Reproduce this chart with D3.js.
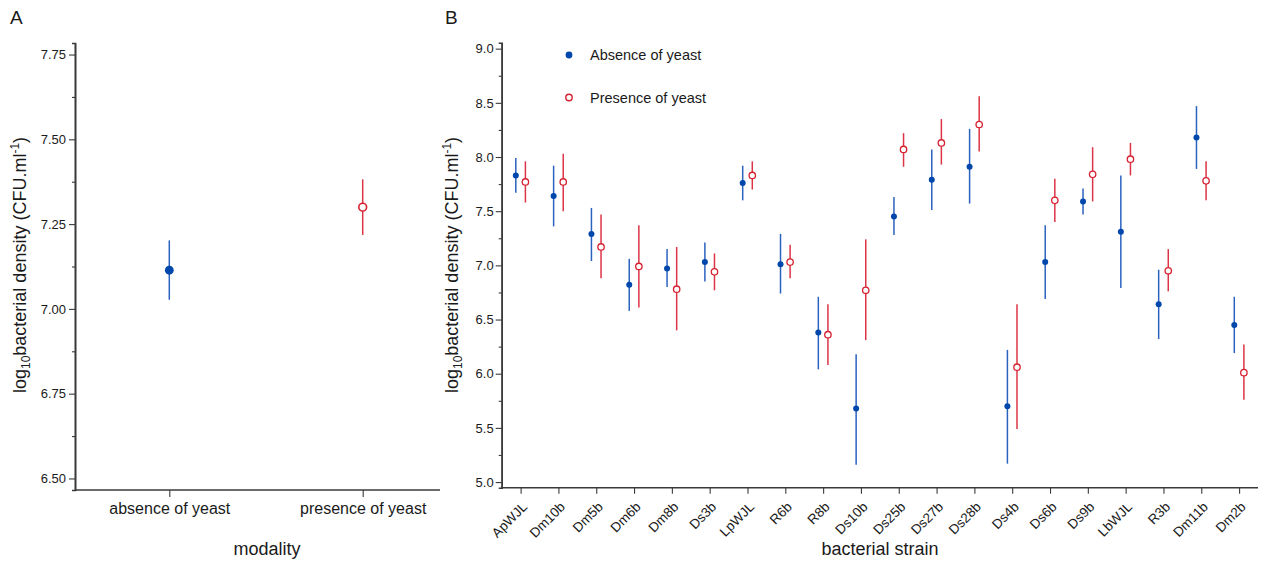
<!DOCTYPE html>
<html lang="en">
<head>
<meta charset="UTF-8">
<title>Bacterial density</title>
<style>
    body { margin: 0; background: #fff; }
    svg text { font-family: "Liberation Sans", Arial, sans-serif; fill: #1a1a1a; }
</style>
</head>
<body>
<div id="graph"></div>
<script src="https://cdnjs.cloudflare.com/ajax/libs/d3/7.8.5/d3.min.js"></script>
<script>
    // panel A data
    const modalities = ["absence of yeast", "presence of yeast"];
    const modMean = [7.114, 7.300];
    const modLow = [7.027, 7.218];
    const modHigh = [7.202, 7.382];
    const ticksA = [6.50, 6.75, 7.00, 7.25, 7.50, 7.75];

    // panel B data
    const strains = ["ApWJL", "Dm10b", "Dm5b", "Dm6b", "Dm8b", "Ds3b", "LpWJL", "R6b", "R8b", "Ds10b",
                     "Ds25b", "Ds27b", "Ds28b", "Ds4b", "Ds6b", "Ds9b", "LbWJL", "R3b", "Dm11b", "Dm2b"];
    const absMean = [7.83, 7.64, 7.29, 6.82, 6.97, 7.03, 7.76, 7.01, 6.38, 5.68,
                     7.45, 7.79, 7.91, 5.70, 7.03, 7.59, 7.31, 6.64, 8.18, 6.45];
    const absLow  = [7.67, 7.36, 7.04, 6.58, 6.80, 6.85, 7.60, 6.74, 6.04, 5.16,
                     7.28, 7.51, 7.57, 5.17, 6.69, 7.47, 6.79, 6.32, 7.89, 6.19];
    const absHigh = [7.99, 7.92, 7.53, 7.06, 7.15, 7.21, 7.92, 7.29, 6.71, 6.18,
                     7.63, 8.07, 8.26, 6.22, 7.37, 7.71, 7.83, 6.96, 8.47, 6.71];
    const presMean = [7.77, 7.77, 7.17, 6.99, 6.78, 6.94, 7.83, 7.03, 6.36, 6.77,
                      8.07, 8.13, 8.30, 6.06, 7.60, 7.84, 7.98, 6.95, 7.78, 6.01];
    const presLow  = [7.58, 7.50, 6.88, 6.61, 6.40, 6.77, 7.70, 6.88, 6.08, 6.31,
                      7.91, 7.93, 8.05, 5.49, 7.40, 7.59, 7.83, 6.76, 7.60, 5.76];
    const presHigh = [7.96, 8.03, 7.47, 7.37, 7.17, 7.11, 7.96, 7.19, 6.64, 7.24,
                      8.22, 8.35, 8.56, 6.64, 7.80, 8.09, 8.13, 7.15, 7.96, 6.27];
    const ticksB = [5.0, 5.5, 6.0, 6.5, 7.0, 7.5, 8.0, 8.5, 9.0];

    const legendLabels = ["Absence of yeast", "Presence of yeast"];

    const blue = "#0047ab", blueBar = "#2a62c0";
    const red = "#d6202f", redBar = "#dc3446";
    const axisColor = "#3a3a3a";

    const svg = d3.select("#graph").append("svg")
        .attr("width", 1265).attr("height", 561);

    // styling of a d3 axis group
    function styleAxis(g, fontSize) {
        g.select(".domain").attr("stroke", axisColor).attr("stroke-width", 1.6);
        g.selectAll(".tick line").attr("stroke", axisColor).attr("stroke-width", 1.1);
        g.selectAll(".tick text").attr("font-size", fontSize).attr("fill", "#1a1a1a")
            .attr("font-family", "Liberation Sans, Arial, sans-serif");
    }

    // y title with subscript 10 and superscript -1
    function yTitle(x, y) {
        const t = svg.append("text")
            .attr("transform", `translate(${x},${y}) rotate(-90)`)
            .attr("text-anchor", "middle")
            .attr("font-size", 18);
        t.append("tspan").text("log");
        t.append("tspan").attr("font-size", 12).attr("dy", 4).text("10");
        t.append("tspan").attr("dy", -4).text("bacterial density (CFU.ml");
        t.append("tspan").attr("font-size", 12).attr("dy", -7).text("-1");
        t.append("tspan").attr("dy", 7).text(")");
    }

    // ---------- panel A ----------
    const yA = d3.scaleLinear().domain([6.466, 7.784]).range([490, 43]);
    const xA = d3.scalePoint().domain(modalities).range([169.3, 362.7]);

    const minorA = d3.range(0, 6).map(i => 6.625 + i * 0.25).filter(v => v < 7.784);
    svg.append("g").attr("transform", "translate(75,0)")
        .call(d3.axisLeft(yA).tickValues(minorA).tickSize(3).tickFormat(""))
        .call(g => styleAxis(g, 13));
    svg.append("g").attr("transform", "translate(75,0)")
        .call(d3.axisLeft(yA).tickValues(ticksA).tickSize(6).tickSizeOuter(0)
            .tickPadding(3).tickFormat(d3.format(".2f")))
        .call(g => styleAxis(g, 13));

    svg.append("line").attr("x1", 75).attr("x2", 440).attr("y1", 490).attr("y2", 490)
        .attr("stroke", axisColor).attr("stroke-width", 1.6);
    const axA = svg.append("g").attr("transform", "translate(0,490)")
        .call(d3.axisBottom(xA).tickSize(7).tickSizeOuter(0).tickPadding(6))
        .call(g => styleAxis(g, 16));
    axA.select(".domain").remove();

    svg.selectAll(".errA").data(modalities).join("line")
        .attr("x1", d => xA(d)).attr("x2", d => xA(d))
        .attr("y1", (d, i) => yA(modLow[i])).attr("y2", (d, i) => yA(modHigh[i]))
        .attr("stroke", (d, i) => i === 0 ? blueBar : redBar).attr("stroke-width", 1.5);
    svg.append("circle").attr("cx", xA(modalities[0])).attr("cy", yA(modMean[0]))
        .attr("r", 4.4).attr("fill", blue);
    svg.append("circle").attr("cx", xA(modalities[1])).attr("cy", yA(modMean[1]))
        .attr("r", 3.9).attr("fill", "#fff").attr("stroke", red).attr("stroke-width", 1.6);

    yTitle(26, 265);
    svg.append("text").attr("x", 267).attr("y", 555).attr("text-anchor", "middle")
        .attr("font-size", 18).text("modality");
    svg.append("text").attr("x", 10).attr("y", 24).attr("font-size", 19).text("A");

    // ---------- panel B ----------
    const x0 = 501.7, x1 = 1258, yTop = 42.7, yBot = 487.7;
    const yB = d3.scaleLinear().domain([4.948, 9.055]).range([yBot, yTop]);
    const xB = d3.scalePoint().domain(strains).range([x0, x1]).padding(0.5);
    const off = 4.8;

    const minorB = d3.range(0, 8).map(i => 5.25 + i * 0.5);
    svg.append("g").attr("transform", `translate(${x0},0)`)
        .call(d3.axisLeft(yB).tickValues(minorB).tickSize(3).tickFormat(""))
        .call(g => styleAxis(g, 13));
    svg.append("g").attr("transform", `translate(${x0},0)`)
        .call(d3.axisLeft(yB).tickValues(ticksB).tickSize(6).tickSizeOuter(0)
            .tickPadding(2).tickFormat(d3.format(".1f")))
        .call(g => styleAxis(g, 13));

    svg.append("line").attr("x1", x0).attr("x2", x1).attr("y1", yBot).attr("y2", yBot)
        .attr("stroke", axisColor).attr("stroke-width", 1.6);
    const axB = svg.append("g").attr("transform", `translate(0,${yBot})`)
        .call(d3.axisBottom(xB).tickSize(6).tickSizeOuter(0))
        .call(g => styleAxis(g, 13.5));
    axB.select(".domain").remove();
    axB.selectAll(".tick text")
        .attr("text-anchor", "end")
        .attr("dy", null)
        .attr("y", null)
        .attr("transform", "translate(7,20) rotate(-45)");

    // error bars, absence (left) and presence (right)
    const gB = svg.append("g");
    gB.selectAll(".errAbs").data(strains).join("line")
        .attr("x1", d => xB(d) - off).attr("x2", d => xB(d) - off)
        .attr("y1", (d, i) => yB(absLow[i])).attr("y2", (d, i) => yB(absHigh[i]))
        .attr("stroke", blueBar).attr("stroke-width", 1.5);
    gB.selectAll(".errPres").data(strains).join("line")
        .attr("x1", d => xB(d) + off).attr("x2", d => xB(d) + off)
        .attr("y1", (d, i) => yB(presLow[i])).attr("y2", (d, i) => yB(presHigh[i]))
        .attr("stroke", redBar).attr("stroke-width", 1.5);
    gB.selectAll(".ptAbs").data(strains).join("circle")
        .attr("cx", d => xB(d) - off).attr("cy", (d, i) => yB(absMean[i]))
        .attr("r", 3).attr("fill", blue);
    gB.selectAll(".ptPres").data(strains).join("circle")
        .attr("cx", d => xB(d) + off).attr("cy", (d, i) => yB(presMean[i]))
        .attr("r", 3.2).attr("fill", "#fff").attr("stroke", red).attr("stroke-width", 1.3);

    // legend
    svg.append("circle").attr("cx", 569).attr("cy", 55).attr("r", 3.4).attr("fill", blue);
    svg.append("circle").attr("cx", 569).attr("cy", 97.5).attr("r", 3.2)
        .attr("fill", "#fff").attr("stroke", red).attr("stroke-width", 1.4);
    svg.append("text").attr("x", 590).attr("y", 60).attr("font-size", 14.5).text(legendLabels[0]);
    svg.append("text").attr("x", 590).attr("y", 103).attr("font-size", 14.5).text(legendLabels[1]);

    yTitle(458, 265);
    svg.append("text").attr("x", 880).attr("y", 555).attr("text-anchor", "middle")
        .attr("font-size", 18).text("bacterial strain");
    svg.append("text").attr("x", 445).attr("y", 24).attr("font-size", 19).text("B");
</script>
</body>
</html>
